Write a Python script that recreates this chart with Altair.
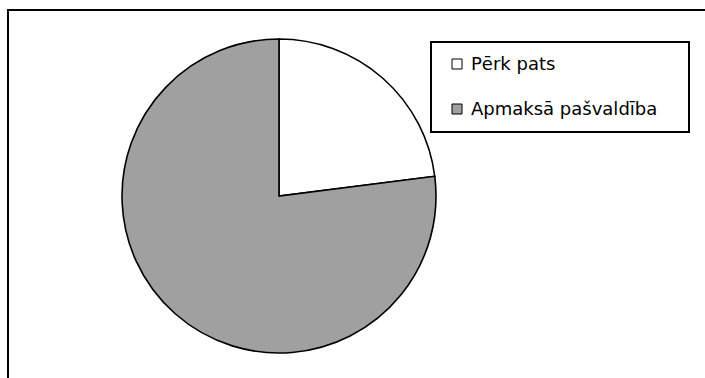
import altair as alt
import pandas as pd

categories = ["Pērk pats", "Apmaksā pašvaldība"]
values = [23, 77]
slice_order = [0, 1]
colors = ["#ffffff", "#a0a0a0"]

df = pd.DataFrame({"category": categories, "value": values, "order": slice_order})
one = pd.DataFrame({"a": [0]})

color_scale = alt.Scale(domain=categories, range=colors)
y_scale = alt.Scale(type="point", domain=categories, range=[64, 109], padding=0)

frame_top = alt.Chart(one).mark_rule(color="black", strokeWidth=2).encode(
    x=alt.value(8), x2=alt.value(705), y=alt.value(10)
)
frame_left = alt.Chart(one).mark_rule(color="black", strokeWidth=2).encode(
    x=alt.value(8), y=alt.value(9), y2=alt.value(378)
)

pie = alt.Chart(df).mark_arc(outerRadius=157, stroke="black", strokeWidth=1.6).encode(
    theta=alt.Theta("value:Q", stack=True),
    color=alt.Color("category:N", scale=color_scale, legend=None),
    order=alt.Order("order:Q"),
    x=alt.value(279),
    y=alt.value(196),
)

legend_box = alt.Chart(one).mark_rect(fill="white", stroke="black", strokeWidth=2).encode(
    x=alt.value(431), x2=alt.value(689), y=alt.value(42), y2=alt.value(132)
)

legend_sym = alt.Chart(df).mark_square(size=100, filled=True, stroke="black", strokeWidth=1, opacity=1).encode(
    x=alt.value(457),
    y=alt.Y("category:N", scale=y_scale, axis=None),
    color=alt.Color("category:N", scale=color_scale, legend=None),
)

legend_txt = alt.Chart(df).mark_text(
    align="left", baseline="alphabetic", dy=6, font="DejaVu Sans", fontSize=18, color="black"
).encode(
    x=alt.value(471),
    y=alt.Y("category:N", scale=y_scale, axis=None),
    text="category:N",
)

chart = alt.layer(frame_top, frame_left, pie, legend_box, legend_sym, legend_txt).properties(
    width=705, height=378, padding=0,
    autosize=alt.AutoSizeParams(type="fit", contains="padding"),
    background="white",
).configure_view(strokeWidth=0)

chart.save("out.html", embed_options={"renderer": "svg", "actions": False})
